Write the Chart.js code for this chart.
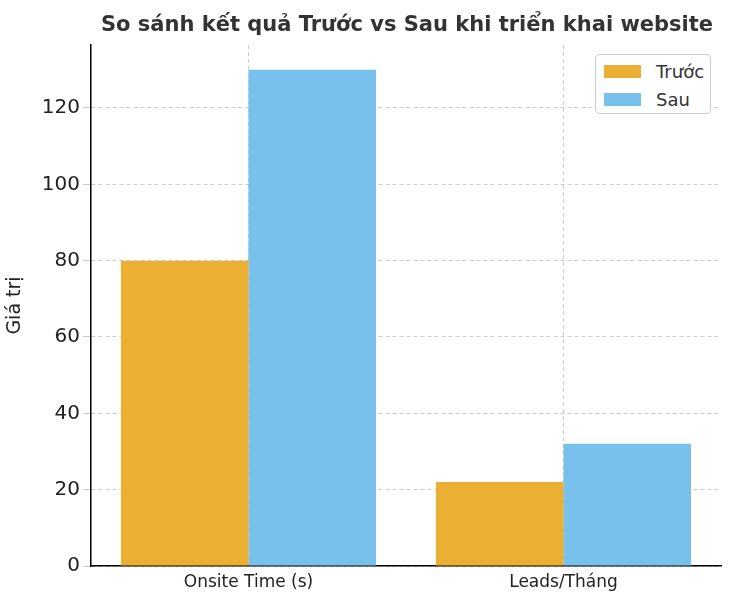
<!DOCTYPE html>
<html><head><meta charset="utf-8">
<script src="https://cdn.jsdelivr.net/npm/chart.js@4/dist/chart.umd.min.js"></script>
<style>
body{margin:0;background:#fff;font-family:"DejaVu Sans",sans-serif}
#wrap{position:relative;width:750px;height:606px}
#title{position:absolute;top:12px;left:0;width:814px;text-align:center;font-weight:bold;font-size:21px;color:#333}
#legend{position:absolute;left:595px;top:54px;width:114px;height:58px;border:1px solid #ccc;border-radius:4px;background:#fff;font-size:18px;color:#333}
.it{position:absolute;left:8px;height:20px;display:flex;align-items:center}
.sw{width:37px;height:13px;margin-right:15px}
</style></head><body>
<div id="wrap"><canvas id="c" width="750" height="606"></canvas>
<div id="title">So sánh kết quả Trước vs Sau khi triển khai website</div>
<div id="legend"><div class="it" style="top:6px"><div class="sw" style="background:#EBB033"></div>Trước</div>
<div class="it" style="top:34px"><div class="sw" style="background:#78C1ED"></div>Sau</div></div>
</div>
<script>
const categories=["Onsite Time (s)","Leads/Tháng"];
const truoc=[80,22];
const sau=[130,32];
const seriesNames=["Trước","Sau"];
new Chart(document.getElementById('c'),{type:'bar',
data:{labels:categories,datasets:[
{label:seriesNames[0],data:truoc,backgroundColor:'#EBB033'},
{label:seriesNames[1],data:sau,backgroundColor:'#78C1ED'}]},
options:{responsive:false,animation:false,
layout:{padding:{top:45,right:29,left:0,bottom:0}},
plugins:{legend:{display:false},tooltip:{enabled:false}},
datasets:{bar:{categoryPercentage:0.81,barPercentage:1}},
scales:{
x:{grid:{offset:false,color:'#ccc',tickLength:0,drawTicks:false},border:{color:'#000',width:1.5,dash:[4,3]},
ticks:{font:{size:17,family:'DejaVu Sans'},color:'#222',padding:6},afterFit(s){s.height=40}},
y:{min:0,max:136.5,grid:{color:'#ccc'},border:{color:'#000',width:1.5,dash:[4,3]},
ticks:{stepSize:20,font:{size:20,family:'DejaVu Sans'},color:'#222',callback:v=>v%20===0?v:null},
title:{display:true,text:'Giá trị',font:{size:19,family:'DejaVu Sans'},color:'#222'},afterFit(s){s.width=91}}
}}});
</script></body></html>
